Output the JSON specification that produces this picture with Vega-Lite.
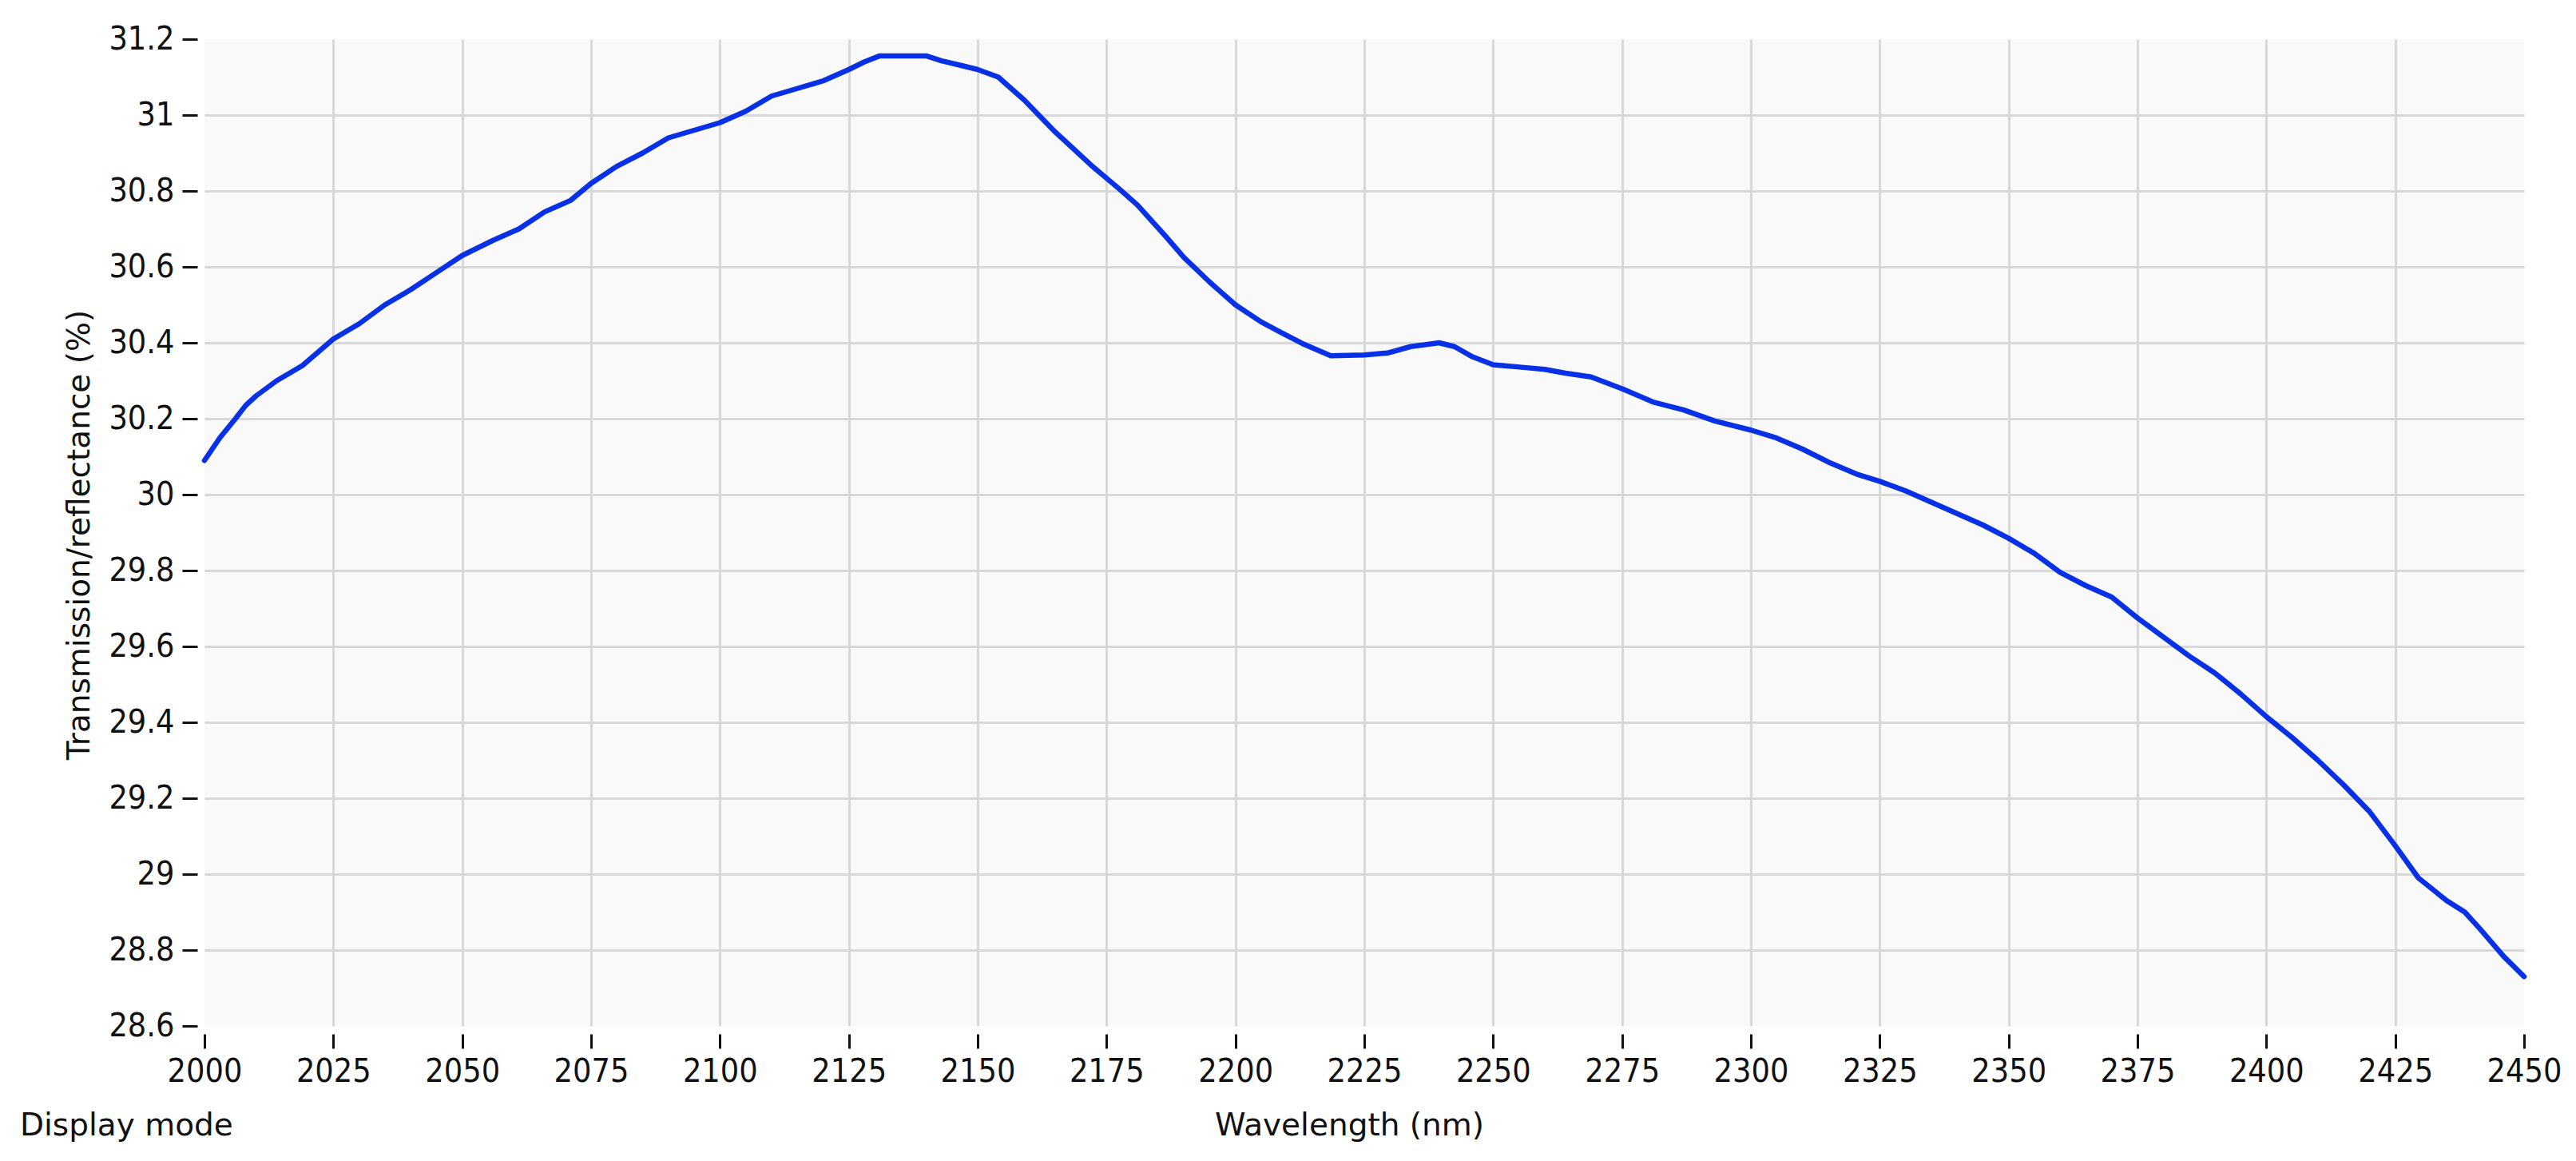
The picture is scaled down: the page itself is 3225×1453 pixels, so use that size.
{
  "$schema": "https://vega.github.io/schema/vega-lite/v6.json",
  "width": 2904,
  "height": 1235,
  "autosize": "none",
  "padding": {"left": 256, "top": 49, "right": 65, "bottom": 169},
  "background": "white",
  "config": {"view": {"fill": "#f9f9f9", "stroke": null}},
  "title": {
    "text": "Display mode",
    "orient": "bottom",
    "anchor": "start",
    "frame": "group",
    "offset": -7,
    "baseline": "alphabetic",
    "dx": -231,
    "font": "DejaVu Sans",
    "fontSize": 39,
    "fontWeight": "normal",
    "color": "#111111"
  },
  "data": {
    "values": [
      {"wavelength": 2000, "value": 30.09},
      {"wavelength": 2003, "value": 30.15},
      {"wavelength": 2006, "value": 30.2},
      {"wavelength": 2008, "value": 30.235},
      {"wavelength": 2010, "value": 30.26},
      {"wavelength": 2014, "value": 30.3},
      {"wavelength": 2019, "value": 30.34},
      {"wavelength": 2025, "value": 30.41},
      {"wavelength": 2030, "value": 30.45},
      {"wavelength": 2035, "value": 30.5},
      {"wavelength": 2040, "value": 30.54},
      {"wavelength": 2045, "value": 30.585},
      {"wavelength": 2050, "value": 30.63},
      {"wavelength": 2056, "value": 30.67},
      {"wavelength": 2061, "value": 30.7},
      {"wavelength": 2066, "value": 30.745},
      {"wavelength": 2071, "value": 30.775},
      {"wavelength": 2075, "value": 30.82},
      {"wavelength": 2080, "value": 30.865},
      {"wavelength": 2085, "value": 30.9},
      {"wavelength": 2090, "value": 30.94},
      {"wavelength": 2095, "value": 30.96},
      {"wavelength": 2100, "value": 30.98},
      {"wavelength": 2105, "value": 31.01},
      {"wavelength": 2110, "value": 31.05},
      {"wavelength": 2115, "value": 31.07},
      {"wavelength": 2120, "value": 31.09},
      {"wavelength": 2125, "value": 31.12},
      {"wavelength": 2128, "value": 31.14},
      {"wavelength": 2131, "value": 31.156},
      {"wavelength": 2140, "value": 31.156},
      {"wavelength": 2143, "value": 31.143},
      {"wavelength": 2147, "value": 31.13},
      {"wavelength": 2150, "value": 31.12},
      {"wavelength": 2154, "value": 31.1},
      {"wavelength": 2159, "value": 31.04},
      {"wavelength": 2165, "value": 30.956},
      {"wavelength": 2172, "value": 30.868},
      {"wavelength": 2177.5, "value": 30.805},
      {"wavelength": 2181, "value": 30.763},
      {"wavelength": 2186.5, "value": 30.68},
      {"wavelength": 2190, "value": 30.625},
      {"wavelength": 2195, "value": 30.56},
      {"wavelength": 2200, "value": 30.5},
      {"wavelength": 2205, "value": 30.455},
      {"wavelength": 2209, "value": 30.426},
      {"wavelength": 2213, "value": 30.398},
      {"wavelength": 2218.5, "value": 30.366},
      {"wavelength": 2225, "value": 30.368},
      {"wavelength": 2229.5, "value": 30.373},
      {"wavelength": 2234, "value": 30.39},
      {"wavelength": 2239.5, "value": 30.4},
      {"wavelength": 2242.5, "value": 30.39},
      {"wavelength": 2246, "value": 30.363},
      {"wavelength": 2250, "value": 30.342},
      {"wavelength": 2256, "value": 30.335},
      {"wavelength": 2260, "value": 30.33},
      {"wavelength": 2264, "value": 30.32},
      {"wavelength": 2269, "value": 30.31},
      {"wavelength": 2275, "value": 30.279},
      {"wavelength": 2281, "value": 30.244},
      {"wavelength": 2287, "value": 30.223},
      {"wavelength": 2293, "value": 30.194},
      {"wavelength": 2300, "value": 30.17},
      {"wavelength": 2305, "value": 30.149},
      {"wavelength": 2310, "value": 30.12},
      {"wavelength": 2315, "value": 30.086},
      {"wavelength": 2320.5, "value": 30.054},
      {"wavelength": 2325, "value": 30.035},
      {"wavelength": 2330, "value": 30.01},
      {"wavelength": 2335, "value": 29.98},
      {"wavelength": 2340, "value": 29.95},
      {"wavelength": 2345, "value": 29.92},
      {"wavelength": 2350, "value": 29.885},
      {"wavelength": 2355, "value": 29.845},
      {"wavelength": 2360, "value": 29.795},
      {"wavelength": 2365, "value": 29.76},
      {"wavelength": 2370, "value": 29.73},
      {"wavelength": 2375, "value": 29.675},
      {"wavelength": 2380, "value": 29.625},
      {"wavelength": 2385, "value": 29.575},
      {"wavelength": 2390, "value": 29.53},
      {"wavelength": 2395, "value": 29.475},
      {"wavelength": 2400, "value": 29.415},
      {"wavelength": 2405, "value": 29.36},
      {"wavelength": 2410, "value": 29.3},
      {"wavelength": 2415, "value": 29.235},
      {"wavelength": 2420, "value": 29.165},
      {"wavelength": 2425, "value": 29.075},
      {"wavelength": 2429.5, "value": 28.99},
      {"wavelength": 2435, "value": 28.93},
      {"wavelength": 2438.5, "value": 28.9},
      {"wavelength": 2441.5, "value": 28.855},
      {"wavelength": 2446, "value": 28.784},
      {"wavelength": 2450, "value": 28.73}
    ]
  },
  "mark": {"type": "line", "color": "#0830e6", "strokeWidth": 6.5, "strokeJoin": "round", "strokeCap": "round"},
  "encoding": {
    "x": {
      "field": "wavelength",
      "type": "quantitative",
      "scale": {"domain": [2000, 2450], "nice": false, "zero": false},
      "axis": {
        "title": "Wavelength (nm)",
        "values": [2000, 2025, 2050, 2075, 2100, 2125, 2150, 2175, 2200, 2225, 2250, 2275, 2300, 2325, 2350, 2375, 2400, 2425, 2450],
        "format": "d",
        "domain": false,
        "offset": 10,
        "tickSize": 18,
        "tickWidth": 3,
        "tickColor": "#111111",
        "labelFont": "DejaVu Sans Condensed",
        "labelFontSize": 41,
        "labelColor": "#111111",
        "labelPadding": 9,
        "labelBaseline": "top",
        "labelFlush": false,
        "labelOverlap": false,
        "grid": true,
        "gridColor": "#d8d8d8",
        "gridWidth": 3,
        "gridOpacity": {"condition": {"test": "datum.value == 2000 || datum.value == 2450", "value": 0}, "value": 1},
        "titleFont": "DejaVu Sans",
        "titleFontSize": 39,
        "titleFontWeight": "normal",
        "titleColor": "#111111",
        "titleX": 1433,
        "titleY": 126,
        "titleBaseline": "alphabetic",
        "titleAlign": "center"
      }
    },
    "y": {
      "field": "value",
      "type": "quantitative",
      "scale": {"domain": [28.6, 31.2], "nice": false, "zero": false},
      "axis": {
        "title": "Transmission/reflectance (%)",
        "values": [28.6, 28.8, 29, 29.2, 29.4, 29.6, 29.8, 30, 30.2, 30.4, 30.6, 30.8, 31, 31.2],
        "format": "~g",
        "domain": false,
        "offset": 9,
        "tickSize": 19,
        "tickWidth": 3,
        "tickColor": "#111111",
        "labelFont": "DejaVu Sans Condensed",
        "labelFontSize": 41,
        "labelColor": "#111111",
        "labelPadding": 10,
        "labelBaseline": "middle",
        "labelFlush": false,
        "labelOverlap": false,
        "grid": true,
        "gridColor": "#d8d8d8",
        "gridWidth": 3,
        "gridOpacity": {"condition": {"test": "datum.value < 28.61 || datum.value > 31.19", "value": 0}, "value": 1},
        "titleFont": "DejaVu Sans",
        "titleFontSize": 39,
        "titleFontWeight": "normal",
        "titleColor": "#111111",
        "titleAngle": -90,
        "titleX": -148,
        "titleY": 620,
        "titleBaseline": "middle",
        "titleAlign": "center"
      }
    }
  }
}
